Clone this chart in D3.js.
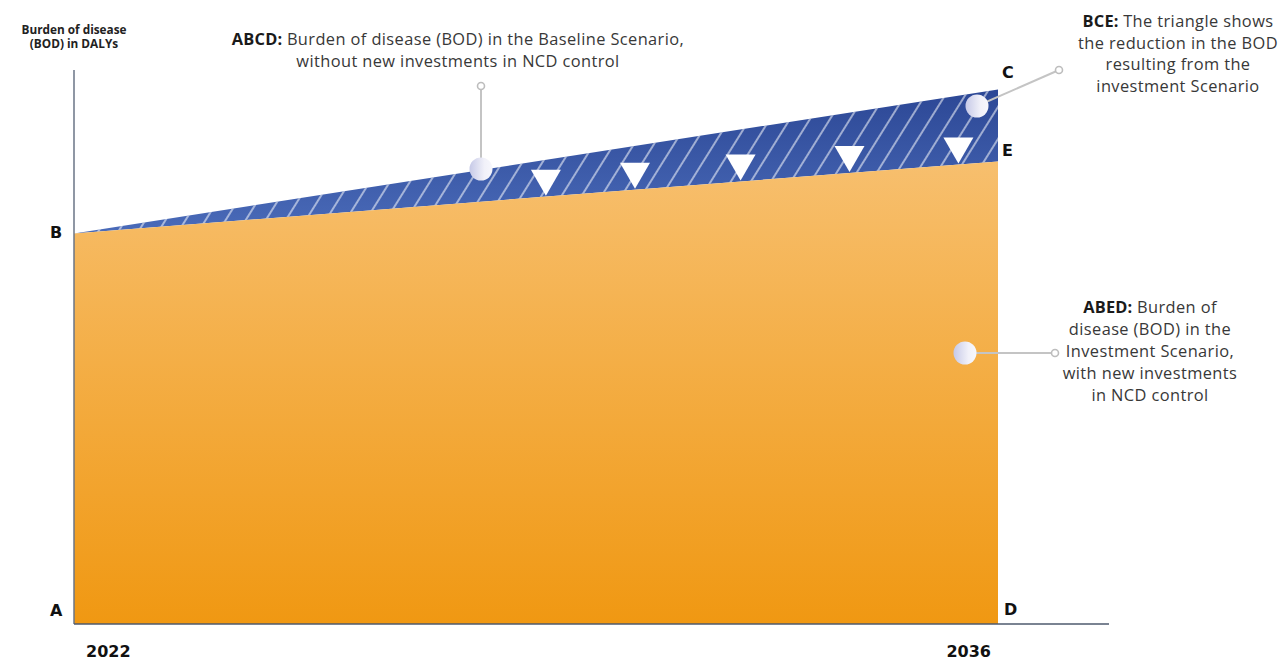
<!DOCTYPE html>
<html>
<head>
<meta charset="utf-8">
<script src="https://cdn.jsdelivr.net/npm/d3@7/dist/d3.min.js"></script>
<style>
  html, body { margin: 0; padding: 0; background: #fff; }
  svg { display: block; }
  .note { font-family: "Open Sans", "Noto Sans", sans-serif; font-size: 16.4px; letter-spacing: 0.4px; fill: #383838; }
  .note .b { font-weight: 700; fill: #1a1a1a; letter-spacing: 0.2px; }
  .corner { font-family: "DejaVu Sans", sans-serif; font-weight: 700; font-size: 16px; fill: #111; }
  .year { font-family: "DejaVu Sans", sans-serif; font-weight: 700; font-size: 16px; fill: #111; }
  .ytitle { font-family: "Open Sans", sans-serif; font-weight: 700; font-size: 11.8px; fill: #222; }
</style>
</head>
<body>
<svg id="chart" width="1278" height="662"></svg>
<script>
// Scenario endpoints (arbitrary DALY units)
const years = [2022, 2036];
const baselineBOD = [70.5, 96.5];     // B -> C
const investmentBOD = [70.5, 83.5];   // B -> E
const reductionMarkers = [2029.15, 2030.5, 2032.1, 2033.75, 2035.4];
const yearLabels = ["2022", "2036"];

const svg = d3.select("#chart");

const x = d3.scaleLinear().domain([2022, 2036]).range([74, 998]);
const y = d3.scaleLinear().domain([0, 100]).range([624, 70]);

// Linear interpolation along the investment-scenario top edge
const investAt = d3.scaleLinear().domain(years).range(investmentBOD);

const defs = svg.append("defs");

const og = defs.append("linearGradient").attr("id", "orangeGrad")
  .attr("gradientUnits", "userSpaceOnUse")
  .attr("x1", 0).attr("x2", 0).attr("y1", y(investmentBOD[1])).attr("y2", y(0));
og.append("stop").attr("offset", "0%").attr("stop-color", "#f7bf6e");
og.append("stop").attr("offset", "100%").attr("stop-color", "#f09812");

const bg = defs.append("linearGradient").attr("id", "blueGrad")
  .attr("gradientUnits", "userSpaceOnUse")
  .attr("x1", 0).attr("x2", 0).attr("y1", y(baselineBOD[1])).attr("y2", y(investmentBOD[0]));
bg.append("stop").attr("offset", "0%").attr("stop-color", "#2c4795");
bg.append("stop").attr("offset", "100%").attr("stop-color", "#4a6bb9");

const hatch = defs.append("pattern").attr("id", "hatch")
  .attr("patternUnits", "userSpaceOnUse")
  .attr("width", 17).attr("height", 17)
  .attr("patternTransform", "rotate(32)");
hatch.append("line").attr("x1", 2).attr("x2", 2).attr("y1", 0).attr("y2", 17)
  .attr("stroke", "#ffffff").attr("stroke-opacity", 0.75).attr("stroke-width", 1.4);

const cg = defs.append("linearGradient").attr("id", "dotGrad")
  .attr("x1", "0%").attr("x2", "100%").attr("y1", "0%").attr("y2", "0%");
cg.append("stop").attr("offset", "0%").attr("stop-color", "#c6c9e7");
cg.append("stop").attr("offset", "65%").attr("stop-color", "#f1f1f9");
cg.append("stop").attr("offset", "100%").attr("stop-color", "#f7f7fc");

const rows = years.map((yr, i) => ({ yr, base: baselineBOD[i], inv: investmentBOD[i] }));

// Baseline scenario excess (BCE) – blue band between the two lines
const band = d3.area().x(d => x(d.yr)).y0(d => y(d.inv)).y1(d => y(d.base));
svg.append("path").datum(rows).attr("d", band).attr("fill", "url(#blueGrad)");
svg.append("path").datum(rows).attr("d", band).attr("fill", "url(#hatch)");

// Investment scenario burden (ABED) – orange area
const invArea = d3.area().x(d => x(d.yr)).y0(y(0)).y1(d => y(d.inv));
svg.append("path").datum(rows).attr("d", invArea).attr("fill", "url(#orangeGrad)");

// Downward triangles marking the reduction
const triW = 30, triH = 26;
svg.append("g").selectAll("path").data(reductionMarkers).join("path")
  .attr("d", yr => {
    const px = x(yr), py = y(investAt(yr)) - 1;
    return `M${px},${py}L${px - triW / 2},${py - triH}L${px + triW / 2},${py - triH}Z`;
  })
  .attr("fill", "#ffffff");

// Axes
svg.append("line").attr("x1", x(2022)).attr("x2", x(2022)).attr("y1", y(100)).attr("y2", y(0))
  .attr("stroke", "#6a7486").attr("stroke-width", 1.5);
svg.append("line").attr("x1", x(2022)).attr("x2", 1109).attr("y1", y(0)).attr("y2", y(0))
  .attr("stroke", "#4e5a6e").attr("stroke-width", 1.5);

svg.append("text").attr("class", "year").attr("x", x(2022) + 12).attr("y", 657)
  .attr("text-anchor", "start").text(yearLabels[0]);
svg.append("text").attr("class", "year").attr("x", x(2036) - 7).attr("y", 657)
  .attr("text-anchor", "end").text(yearLabels[1]);

// Y-axis title
[["Burden of disease", 34], ["(BOD) in DALYs", 48]].forEach(([t, ty]) => {
  svg.append("text").attr("class", "ytitle").attr("text-anchor", "middle")
    .attr("x", x(2022)).attr("y", ty).text(t);
});

// Corner letters
const corners = [
  { t: "A", px: x(2022) - 24, py: 616 },
  { t: "B", px: x(2022) - 24, py: y(baselineBOD[0]) + 5 },
  { t: "C", px: x(2036) + 4, py: y(baselineBOD[1]) - 11 },
  { t: "E", px: x(2036) + 4, py: y(investmentBOD[1]) - 5 },
  { t: "D", px: x(2036) + 6, py: 615 }
];
svg.append("g").selectAll("text").data(corners).join("text")
  .attr("class", "corner").attr("x", d => d.px).attr("y", d => d.py).text(d => d.t);

// Callouts: leader line, small ring, marker dot
function callout(cx, cy, rx, ry) {
  svg.append("line").attr("x1", cx).attr("y1", cy).attr("x2", rx).attr("y2", ry)
    .attr("stroke", "#c4c4c4").attr("stroke-width", 2);
  svg.append("circle").attr("cx", rx).attr("cy", ry).attr("r", 3.5)
    .attr("fill", "#fff").attr("stroke", "#bdbdbd").attr("stroke-width", 1.6);
  svg.append("circle").attr("cx", cx).attr("cy", cy).attr("r", 11.5).attr("fill", "url(#dotGrad)");
}
callout(481, 169, 481, 86);
callout(977, 106, 1059, 70);
callout(965, 353, 1055, 353);

// One text element per line; a bold lead-in where given
function note(cx, y0, lh, lines) {
  lines.forEach((ln, i) => {
    const t = svg.append("text").attr("class", "note").attr("text-anchor", "middle")
      .attr("x", cx).attr("y", y0 + i * lh);
    if (ln.bold) t.append("tspan").attr("class", "b").text(ln.bold + " ");
    t.append("tspan").text(ln.text);
  });
}

note(458, 45, 22, [
  { bold: "ABCD:", text: "Burden of disease (BOD) in the Baseline Scenario," },
  { text: "without new investments in NCD control" }
]);
note(1178, 27, 21.7, [
  { bold: "BCE:", text: "The triangle shows" },
  { text: "the reduction in the BOD" },
  { text: "resulting from the" },
  { text: "investment Scenario" }
]);
note(1150, 313, 22, [
  { bold: "ABED:", text: "Burden of" },
  { text: "disease (BOD) in the" },
  { text: "Investment Scenario," },
  { text: "with new investments" },
  { text: "in NCD control" }
]);
</script>
</body>
</html>
